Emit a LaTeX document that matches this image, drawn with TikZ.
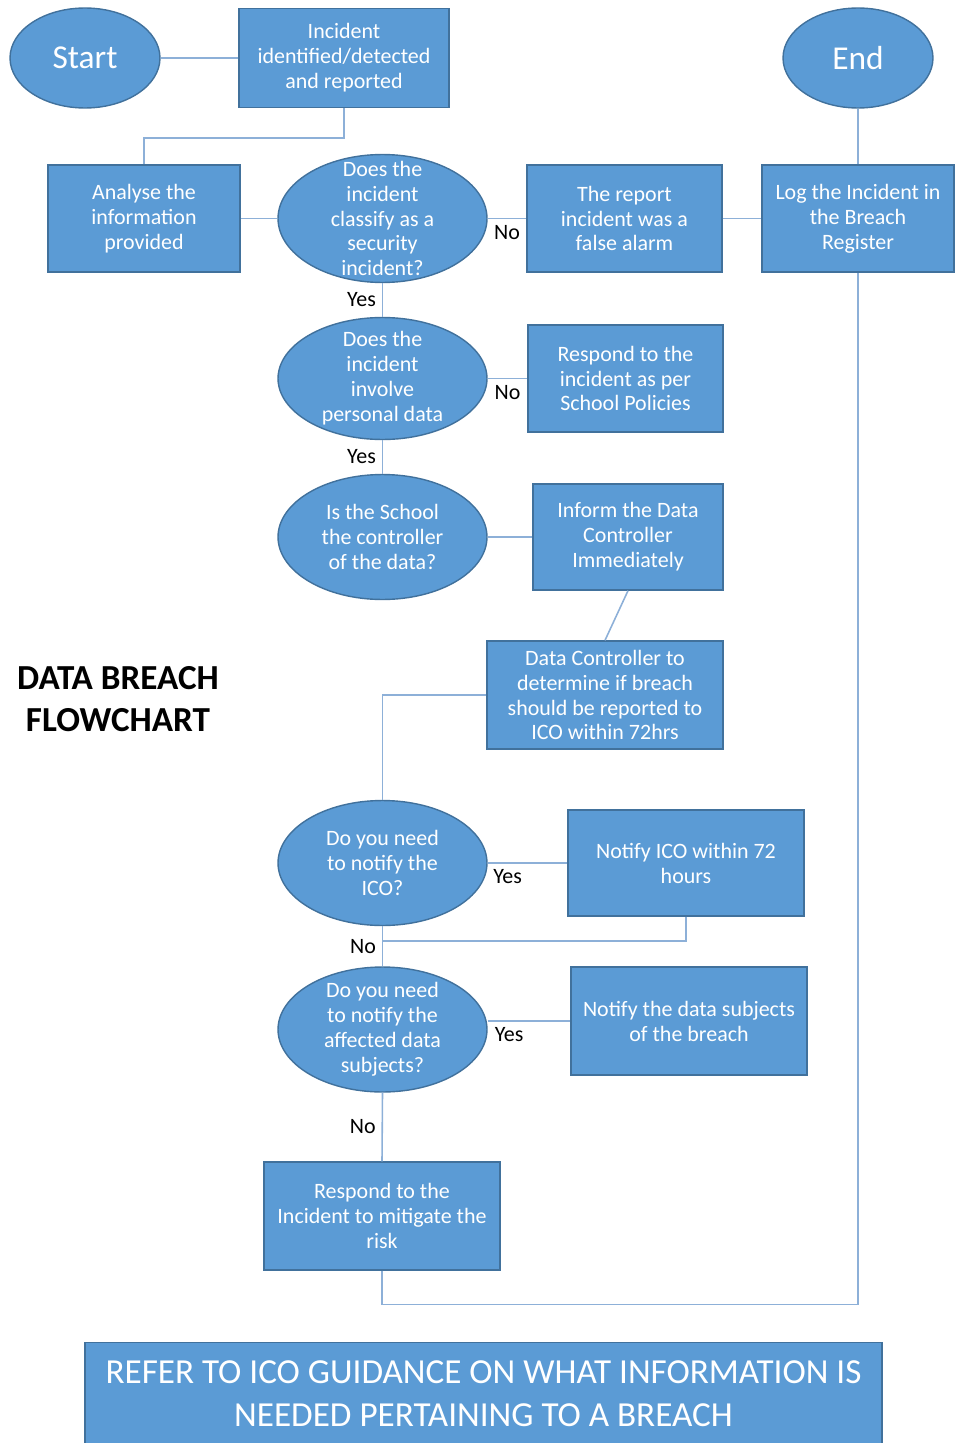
\documentclass[tikz,border=0pt]{standalone}
\usepackage{fontspec}
\setmainfont{Carlito}
\usetikzlibrary{shapes.geometric}
\definecolor{boxblue}{HTML}{5B9BD5}
\definecolor{boxedge}{HTML}{41719C}
\definecolor{linkblue}{HTML}{8DB0D8}

\begin{document}
\begin{tikzpicture}[x=0.02cm,y=-0.02cm,
  every node/.style={font=\fontsize{12.5}{14.2}\selectfont},
  stepbox/.style={draw=boxedge, fill=boxblue, text=white, align=center, inner sep=0pt, line width=0.8pt},
  decision/.style={ellipse, draw=boxedge, fill=boxblue, minimum width=4.18cm, inner sep=0pt, line width=0.8pt},
  terminal/.style={ellipse, draw=boxedge, fill=boxblue, text=white, minimum width=3cm, minimum height=2cm, inner sep=0pt, line width=0.8pt, font=\fontsize{19}{22}\selectfont},
  qtext/.style={text=white, align=center},
  link/.style={draw=linkblue, line width=0.9pt},
  answer/.style={text=black}]
\useasboundingbox (0,0) rectangle (954,1443);

\node[terminal] (start) at (85,58) {Start};
\node[terminal] (end) at (858,58) {End};
\node[stepbox, minimum width=4.2cm, minimum height=1.98cm] (report) at (344,58) {Incident\\identified/detected\\and reported};
\node[stepbox, minimum width=3.84cm, minimum height=2.14cm] (analyse) at (144,218.5) {Analyse the\\information\\provided};
\node[stepbox, minimum width=3.9cm, minimum height=2.14cm] (falsealarm) at (624.5,218.5) {The report\\incident was a\\false alarm};
\node[stepbox, minimum width=3.84cm, minimum height=2.14cm] (log) at (858,218.5) {Log the Incident in\\the Breach\\Register};
\node[stepbox, minimum width=3.9cm, minimum height=2.14cm] (policies) at (625.5,378.5) {Respond to the\\incident as per\\School Policies};
\node[stepbox, minimum width=3.8cm, minimum height=2.12cm] (inform) at (628,537) {Inform the Data\\Controller\\Immediately};
\node[stepbox, minimum width=4.72cm, minimum height=2.16cm] (determine) at (605,695) {Data Controller to\\determine if breach\\should be reported to\\ICO within 72hrs};
\node[stepbox, minimum width=4.72cm, minimum height=2.12cm] (icobox) at (686,863) {Notify ICO within 72\\hours};
\node[stepbox, minimum width=4.72cm, minimum height=2.16cm] (subjbox) at (689,1021) {Notify the data subjects\\of the breach};
\node[stepbox, minimum width=4.72cm, minimum height=2.16cm] (mitigate) at (382,1216) {Respond to the\\Incident to mitigate the\\risk};

\node[decision, minimum height=2.56cm, label={[qtext]center:Does the\\incident\\classify as a\\security\\incident?}] (classify) at (382.5,218.5) {};
\node[decision, minimum height=2.44cm, label={[qtext]center:Does the\\incident\\involve\\personal data}] (personal) at (382.5,378.5) {};
\node[decision, minimum height=2.5cm, label={[qtext]center:Is the School\\the controller\\of the data?}] (controller) at (382.5,537) {};
\node[decision, minimum height=2.5cm, label={[qtext]center:Do you need\\to notify the\\ICO?}] (notifyico) at (382.5,863) {};
\node[decision, minimum height=2.5cm, label={[qtext]center:Do you need\\to notify the\\affected data\\subjects?}] (subjects) at (382.5,1029.5) {};

\node[align=center, font=\fontsize{20}{23.8}\bfseries\selectfont] (title) at (118,699) {DATA BREACH\\FLOWCHART};
\node[stepbox, minimum width=15.94cm, minimum height=2.06cm, font=\fontsize{20}{24.4}\selectfont] (banner) at (483.5,1394) {REFER TO ICO GUIDANCE ON WHAT INFORMATION IS\\NEEDED PERTAINING TO A BREACH};

\coordinate (join) at (382.5,941);

\draw[link] (start) -- (report);
\draw[link] (report.south) -- ++(0,30) -| (analyse.north);
\draw[link] (analyse.east) -- (classify.west);
\draw[link] (classify.east) -- node[answer, below] {No} (falsealarm.west);
\draw[link] (falsealarm.east) -- (log.west);
\draw[link] (end) -- (log);
\draw[link] (classify.south) -- node[answer, left] {Yes} (personal.north);
\draw[link] (personal.east) -- node[answer, below] {No} (policies.west);
\draw[link] (personal.south) -- node[answer, left] {Yes} (controller.north);
\draw[link] (controller.east) -- (inform.west);
\draw[link] (inform.south) -- (determine.north);
\draw[link] (determine.west) -| (notifyico.north);
\draw[link] (notifyico.east) -- node[answer, below, pos=0.25] {Yes} (icobox.west);
\draw[link] (icobox.south) |- (join);
\draw[link] (notifyico.south) -- node[answer, left] {No} (subjects.north);
\draw[link] (subjbox.west -| subjects.east) -- node[answer, below, pos=0.26] {Yes} (subjbox.west);
\draw[link] (subjects.south) -- node[answer, left] {No} (mitigate.north);
\draw[link] (mitigate.south) -- ++(0,34) -| (log.south);

\end{tikzpicture}
\end{document}
